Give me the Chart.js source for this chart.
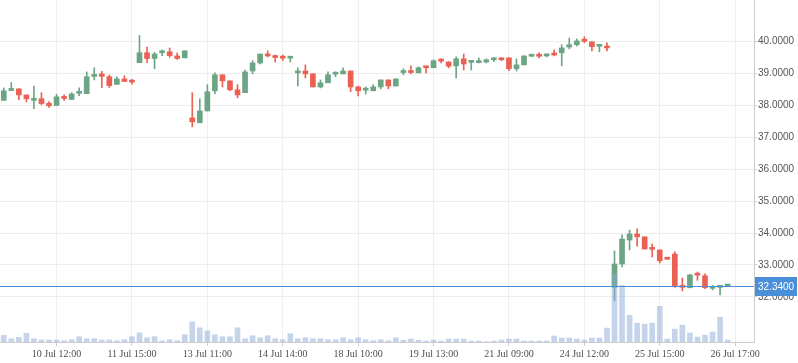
<!DOCTYPE html>
<html>
<head>
<meta charset="utf-8">
<script src="https://cdn.jsdelivr.net/npm/chart.js@4/dist/chart.umd.min.js"></script>
<style>
  html, body { margin: 0; padding: 0; background: #fff; }
  #wrap { width: 798px; height: 363px; }
</style>
</head>
<body>
<div id="wrap"><canvas id="chart"></canvas></div>
<script>
// ---- data ----
const slotCount = 100;           // candle slots across the axis (last few are empty)
const tickLabels = ['10 Jul 12:00', '11 Jul 15:00', '13 Jul 11:00', '14 Jul 14:00', '18 Jul 10:00',
  '19 Jul 13:00', '21 Jul 09:00', '24 Jul 12:00', '25 Jul 15:00', '26 Jul 17:00'];
const tickSlots = [7, 17, 27, 37, 47, 57, 67, 77, 87, 97];

const open = [38.15, 38.46, 38.51, 38.32, 38.15, 38.20, 38.06, 37.99, 38.26, 38.18,
  38.37, 38.36, 38.90, 38.98, 38.89, 38.65, 38.82, 38.74, 39.33, 39.64,
  39.46, 39.64, 39.67, 39.54, 39.48, 37.60, 37.45, 37.82, 38.45, 38.95,
  38.76, 38.48, 38.39, 39.07, 39.32, 39.60, 39.55, 39.49, 39.47, 39.01,
  39.07, 38.98, 38.57, 38.70, 38.97, 38.98, 39.07, 38.57, 38.47, 38.45,
  38.57, 38.79, 38.60, 39.02, 39.04, 39.01, 39.20, 39.17, 39.40, 39.35,
  39.23, 39.45, 39.34, 39.33, 39.35, 39.42, 39.48, 39.48, 39.14, 39.26,
  39.53, 39.55, 39.54, 39.60, 39.64, 39.82, 39.89, 40.02, 39.98, 39.84,
  39.85, 32.30, 33.03, 33.78, 33.97, 33.88, 33.51, 33.47, 33.20, 33.34,
  32.32, 32.29, 32.70, 32.66, 32.27, 32.30, 32.34];
const high = [38.54, 38.71, 38.51, 38.32, 38.60, 38.39, 38.11, 38.34, 38.32, 38.39,
  38.54, 39.04, 39.17, 39.06, 38.94, 38.89, 38.92, 38.81, 40.18, 39.82,
  39.65, 39.73, 39.79, 39.63, 39.70, 38.39, 38.20, 38.64, 39.01, 38.95,
  38.76, 38.64, 39.10, 39.39, 39.60, 39.70, 39.57, 39.57, 39.51, 39.17,
  39.26, 38.98, 38.79, 39.04, 39.04, 39.17, 39.07, 38.60, 38.57, 38.64,
  38.79, 38.79, 38.82, 39.14, 39.23, 39.20, 39.20, 39.42, 39.45, 39.36,
  39.51, 39.60, 39.36, 39.48, 39.45, 39.48, 39.48, 39.48, 39.45, 39.54,
  39.60, 39.64, 39.61, 39.73, 39.89, 40.10, 40.07, 40.14, 39.99, 39.86,
  39.95, 33.44, 33.94, 34.09, 34.13, 33.88, 33.66, 33.47, 33.20, 33.41,
  32.59, 32.71, 32.78, 32.72, 32.36, 32.32, 32.34];
const low = [38.15, 38.45, 38.17, 38.10, 37.89, 38.01, 37.93, 37.99, 38.15, 38.18,
  38.30, 38.36, 38.79, 38.55, 38.55, 38.65, 38.74, 38.66, 39.33, 39.33,
  39.14, 39.55, 39.50, 39.43, 39.48, 37.32, 37.45, 37.82, 38.35, 38.57,
  38.45, 38.23, 38.39, 38.98, 39.29, 39.51, 39.35, 39.39, 39.35, 38.60,
  38.85, 38.57, 38.54, 38.70, 38.89, 38.98, 38.42, 38.29, 38.35, 38.45,
  38.51, 38.51, 38.60, 38.95, 38.98, 39.01, 39.01, 39.17, 39.32, 39.17,
  38.85, 39.10, 39.10, 39.32, 39.32, 39.36, 39.39, 39.08, 39.07, 39.26,
  39.51, 39.48, 39.51, 39.54, 39.23, 39.76, 39.85, 39.95, 39.70, 39.67,
  39.70, 31.88, 32.94, 33.47, 33.59, 33.50, 33.25, 33.06, 33.18, 32.30,
  32.19, 32.28, 32.52, 32.26, 32.22, 32.06, 32.34];
const close = [38.45, 38.48, 38.32, 38.20, 38.20, 38.05, 37.98, 38.26, 38.21, 38.35,
  38.39, 38.89, 38.95, 38.90, 38.61, 38.82, 38.74, 38.72, 39.64, 39.46,
  39.60, 39.66, 39.55, 39.46, 39.70, 37.48, 37.82, 38.42, 38.95, 38.76,
  38.48, 38.32, 39.04, 39.32, 39.60, 39.54, 39.49, 39.47, 39.49, 39.07,
  38.98, 38.57, 38.70, 38.95, 38.99, 39.07, 38.57, 38.45, 38.49, 38.57,
  38.79, 38.60, 38.82, 39.04, 39.02, 39.17, 39.17, 39.39, 39.38, 39.22,
  39.45, 39.29, 39.36, 39.35, 39.42, 39.43, 39.42, 39.14, 39.26, 39.54,
  39.55, 39.53, 39.60, 39.57, 39.79, 39.89, 40.01, 40.00, 39.83, 39.86,
  39.79, 33.03, 33.81, 33.97, 33.88, 33.50, 33.49, 33.13, 33.18, 32.34,
  32.30, 32.69, 32.68, 32.29, 32.29, 32.32, 32.34];
// volume, thousands of lots
const volume = [6.7, 3.3, 4.7, 8.7, 3.3, 2.0, 2.0, 2.0, 1.3, 2.3,
  5.3, 3.3, 3.3, 2.0, 2.0, 1.3, 2.3, 5.3, 9.3, 4.3,
  5.3, 1.3, 2.3, 1.3, 7.3, 20.3, 14.3, 11.3, 7.3, 5.3,
  5.3, 14.3, 3.3, 6.3, 4.3, 6.3, 3.3, 2.3, 8.3, 3.3,
  4.3, 3.3, 3.3, 2.3, 2.3, 4.3, 2.3, 4.3, 2.3, 1.3,
  2.3, 1.3, 4.3, 1.7, 3.0, 1.7, 1.0, 2.0, 1.0, 3.0,
  3.0, 3.0, 1.0, 1.0, 0.3, 1.0, 2.0, 3.0, 3.0, 1.0,
  1.0, 1.0, 1.0, 6.0, 4.0, 4.0, 3.0, 2.0, 4.0, 4.0,
  14.0, 69.0, 57.0, 27.0, 19.0, 18.0, 19.0, 36.0, 3.0, 13.0,
  17.0, 9.0, 5.0, 7.0, 10.0, 25.0, 2.0];

const lastPrice = close[close.length - 1];

// ---- colours ----
const UP = '#6ba583';
const DOWN = '#ea6153';
const VOL = 'rgba(140, 170, 215, 0.5)';
const LINE = '#4a90d9';

// ---- build chart inputs ----
const categories = Array.from({ length: slotCount }, (_, i) => {
  const k = tickSlots.indexOf(i);
  return k >= 0 ? tickLabels[k] : '';
});
const candleColors = open.map((o, i) => (close[i] >= o ? UP : DOWN));
const wickData = low.map((l, i) => [l, high[i]]);
const bodyData = open.map((o, i) => [o, close[i]]);

const lastPriceLine = {
  id: 'lastPriceLine',
  afterDraw(chart) {
    const { ctx, chartArea, scales } = chart;
    const y = Math.round(scales.y.getPixelForValue(lastPrice)) + 0.5;
    ctx.save();
    ctx.strokeStyle = LINE;
    ctx.lineWidth = 1;
    ctx.beginPath();
    ctx.moveTo(chartArea.left, y);
    ctx.lineTo(chartArea.right, y);
    ctx.stroke();
    ctx.fillStyle = LINE;
    ctx.fillRect(chartArea.right + 1, y - 9.5, chart.width - chartArea.right - 2, 19);
    ctx.fillStyle = '#ffffff';
    ctx.font = '10px "Liberation Sans", Arial, sans-serif';
    ctx.textBaseline = 'middle';
    ctx.textAlign = 'left';
    ctx.fillText(lastPrice.toFixed(4), chartArea.right + 4, y + 0.5);
    ctx.restore();
  }
};

new Chart(document.getElementById('chart'), {
  type: 'bar',
  data: {
    labels: categories,
    datasets: [
      {
        label: 'Volume',
        data: volume,
        yAxisID: 'vol',
        backgroundColor: VOL,
        barThickness: 5,
        grouped: false,
        order: 0
      },
      {
        label: 'Body',
        data: bodyData,
        yAxisID: 'y',
        backgroundColor: candleColors,
        barThickness: 5,
        minBarLength: 2,
        grouped: false,
        order: 1
      },
      {
        label: 'Wick',
        data: wickData,
        yAxisID: 'y',
        backgroundColor: candleColors,
        barThickness: 1,
        grouped: false,
        order: 2
      }
    ]
  },
  options: {
    responsive: true,
    maintainAspectRatio: false,
    animation: false,
    layout: { padding: 0 },
    plugins: { legend: { display: false }, tooltip: { enabled: false } },
    scales: {
      x: {
        offset: true,
        grid: { offset: false, color: '#eeeeee', tickLength: 4, tickColor: '#cccccc' },
        border: { color: '#cccccc' },
        ticks: {
          autoSkip: false,
          maxRotation: 0,
          padding: 2,
          color: '#4d4d4d',
          font: { family: '"Liberation Serif", "Times New Roman", serif', size: 10 }
        },
        afterBuildTicks(s) { s.ticks = s.ticks.filter(t => tickSlots.includes(t.value)); },
        afterFit(s) { s.height = 21; s.paddingLeft = 0; s.paddingRight = 0; }
      },
      y: {
        position: 'right',
        min: 30.59,
        max: 41.29,
        grid: { color: '#eeeeee', tickLength: 3, tickColor: '#cccccc' },
        border: { color: '#cccccc' },
        ticks: {
          stepSize: 1,
          includeBounds: false,
          padding: 1,
          color: '#555555',
          font: { family: '"Liberation Sans", Arial, sans-serif', size: 10 },
          callback: v => Number(v).toFixed(4)
        },
        afterBuildTicks(s) { s.ticks = s.ticks.filter(t => t.value >= 32 && t.value <= 40); },
        afterFit(s) { s.width = 44; s.paddingTop = 0; s.paddingBottom = 0; }
      },
      vol: {
        display: false,
        position: 'left',
        min: 0,
        max: Math.max(...volume) * 5
      }
    }
  },
  plugins: [lastPriceLine]
});
</script>
</body>
</html>
